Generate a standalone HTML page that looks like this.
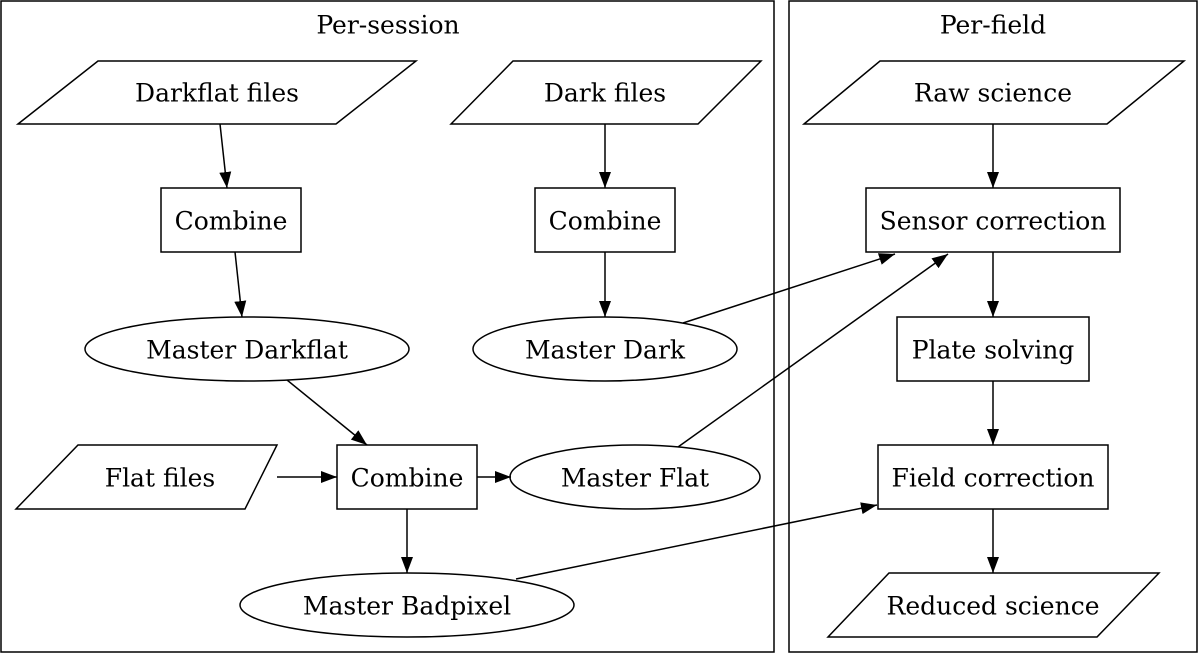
<!DOCTYPE html>
<html><head><meta charset="utf-8"><style>html,body{margin:0;padding:0;background:#fff}svg{display:block}text{font-family:"DejaVu Serif","Liberation Serif",serif;font-size:25px;fill:#000}</style></head>
<body>
<svg width="1200" height="653" viewBox="0 0 1200 653" xmlns="http://www.w3.org/2000/svg">
<defs><marker id="a" viewBox="0 0 16 12" refX="16" refY="6" markerWidth="16" markerHeight="12" markerUnits="userSpaceOnUse" orient="auto"><path d="M0,0 L16,6 L0,12 z" fill="#000"/></marker></defs>
<g fill="none" stroke="#000" stroke-width="1.5">
<rect x="1" y="1" width="773" height="651"/>
<rect x="789" y="1" width="408" height="651"/>
<polygon points="18,124 98,61 416,61 336,124"/>
<polygon points="451,124 513,61 761,61 698,124"/>
<polygon points="804,124 880,61 1184,61 1107,124"/>
<rect x="161" y="188" width="140" height="64"/>
<rect x="535" y="188" width="140" height="64"/>
<rect x="866" y="188" width="254" height="64"/>
<ellipse cx="247" cy="349" rx="162" ry="32"/>
<ellipse cx="605" cy="349" rx="132" ry="32"/>
<rect x="897" y="317" width="192" height="64"/>
<polygon points="16,509 78,445 277,445 245,509"/>
<rect x="337" y="445" width="140" height="64"/>
<ellipse cx="635" cy="477" rx="125" ry="32"/>
<rect x="878" y="445" width="230" height="64"/>
<ellipse cx="407" cy="605" rx="167" ry="32"/>
<polygon points="828,637 889,573 1159,573 1097,637"/>
</g>
<g stroke="#000" stroke-width="1.5" fill="none" marker-end="url(#a)">
<line x1="220" y1="124" x2="227" y2="188"/>
<line x1="235" y1="252" x2="242" y2="317"/>
<line x1="605" y1="124" x2="605" y2="188"/>
<line x1="605" y1="252" x2="605" y2="317"/>
<line x1="993" y1="124" x2="993" y2="188"/>
<line x1="993" y1="252" x2="993" y2="317"/>
<line x1="993" y1="381" x2="993" y2="445"/>
<line x1="993" y1="509" x2="993" y2="573"/>
<line x1="287" y1="380" x2="367" y2="445"/>
<line x1="277" y1="477" x2="337" y2="477"/>
<line x1="477" y1="477" x2="511" y2="477"/>
<line x1="407" y1="509" x2="407" y2="573"/>
<line x1="683" y1="323" x2="895" y2="254"/>
<line x1="678" y1="447" x2="948" y2="254"/>
<line x1="516" y1="579" x2="877" y2="505"/>
</g>
<g text-anchor="middle" dominant-baseline="central">
<text x="388" y="25">Per-session</text>
<text x="993" y="25">Per-field</text>
<text x="217" y="93">Darkflat files</text>
<text x="605" y="93">Dark files</text>
<text x="993" y="93">Raw science</text>
<text x="231" y="221">Combine</text>
<text x="605" y="221">Combine</text>
<text x="993" y="221">Sensor correction</text>
<text x="247" y="350">Master Darkflat</text>
<text x="605" y="350">Master Dark</text>
<text x="993" y="350">Plate solving</text>
<text x="160" y="478">Flat files</text>
<text x="407" y="478">Combine</text>
<text x="635" y="478">Master Flat</text>
<text x="993" y="478">Field correction</text>
<text x="407" y="606">Master Badpixel</text>
<text x="993" y="606">Reduced science</text>
</g>
</svg>
</body></html>
